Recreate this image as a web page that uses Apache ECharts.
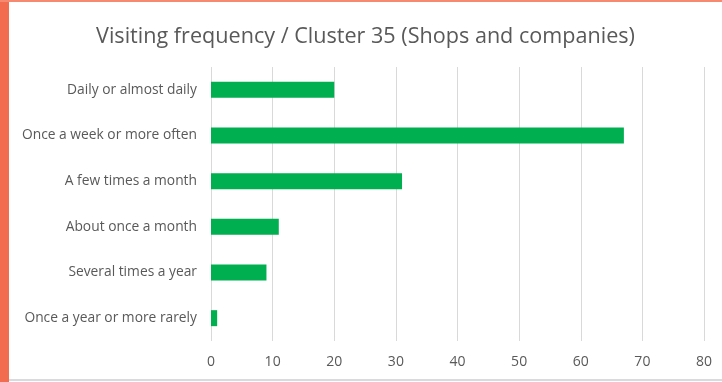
<!DOCTYPE html>
<html>
<head>
<meta charset="utf-8">
<script src="https://cdn.jsdelivr.net/npm/echarts@6/dist/echarts.min.js"></script>
<style>
  html, body { margin: 0; padding: 0; background: #ffffff; }
  #frame { position: relative; width: 722px; height: 382px; overflow: hidden; background: #ffffff; }
  #edgeLeft { position: absolute; left: 0; top: 0; width: 9px; height: 382px; background: #f26c4f; }
  #edgeTop { position: absolute; left: 0; top: 0; width: 722px; height: 2px; background: #f58a70; }
  #edgeBottom { position: absolute; left: 9px; top: 379px; width: 713px; height: 2px; background: #d9d9de; }
  #chart { position: absolute; left: 9px; top: 2px; width: 713px; height: 377px; }
</style>
</head>
<body>
<div id="frame">
  <div id="chart"></div>
  <div id="edgeLeft"></div>
  <div id="edgeTop"></div>
  <div id="edgeBottom"></div>
</div>
<script>
// Visit frequency categories, listed top to bottom
const categories = [
  'Daily or almost daily',
  'Once a week or more often',
  'A few times a month',
  'About once a month',
  'Several times a year',
  'Once a year or more rarely'
];
// Number of respondents per category
const counts = [20, 67, 31, 11, 9, 1];
// Value axis ticks
const axisMin = 0;
const axisMax = 80;
const axisStep = 10;

const chart = echarts.init(document.getElementById('chart'));
chart.setOption({
  animation: false,
  title: {
    text: 'Visiting frequency / Cluster 35 (Shops and companies)',
    left: 'center',
    top: 19,
    textStyle: {
      fontFamily: 'Open Sans',
      fontSize: 21.6,
      fontWeight: 'normal',
      color: '#595959'
    }
  },
  grid: {
    left: 202,
    right: 18,
    top: 65,
    bottom: 38
  },
  xAxis: {
    type: 'value',
    min: axisMin,
    max: axisMax,
    interval: axisStep,
    axisLine: { show: false },
    axisTick: { show: false },
    axisLabel: {
      color: '#595959',
      fontFamily: 'Open Sans',
      fontSize: 14,
      margin: 14
    },
    splitLine: { lineStyle: { color: '#d9d9d9', width: 1 } }
  },
  yAxis: {
    type: 'category',
    data: categories,
    inverse: true,
    axisLine: { show: false },
    axisTick: { show: false },
    axisLabel: {
      color: '#595959',
      fontFamily: 'Open Sans',
      fontSize: 13.8,
      margin: 14
    }
  },
  series: [{
    type: 'bar',
    data: counts,
    barWidth: 16,
    itemStyle: { color: '#00b050' }
  }]
});
</script>
</body>
</html>
